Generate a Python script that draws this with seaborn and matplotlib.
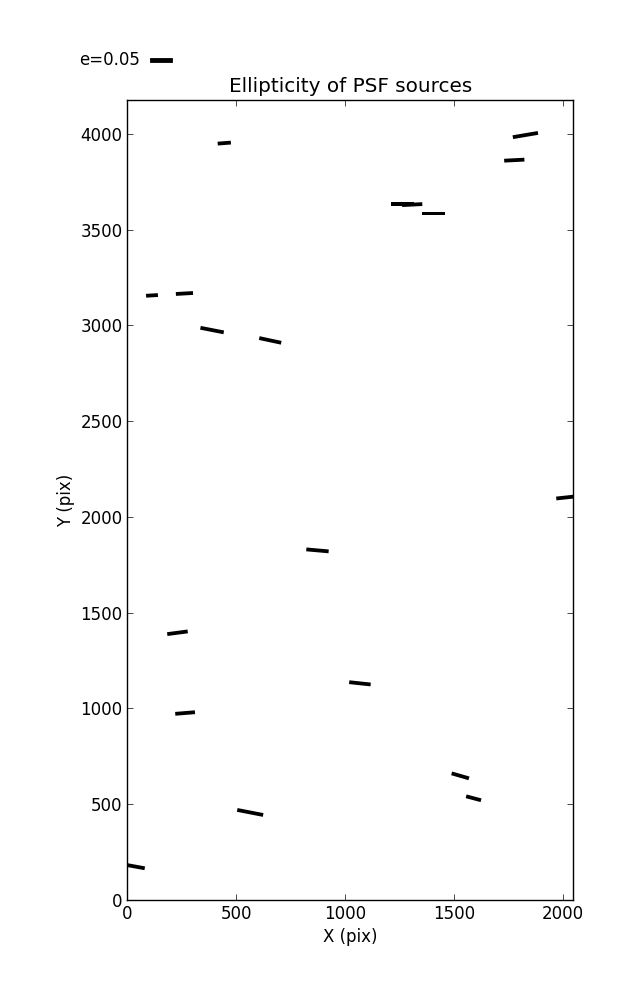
"""
Ellipticity whisker plot of PSF sources on the detector.
"""

import numpy as np
import matplotlib
matplotlib.use('Agg')
import matplotlib.pyplot as plt
import seaborn as sns

# source centres on the detector (pix)
x_pix = [445, 1828, 1777, 1265, 1308, 1407, 113, 262, 389, 656,
         2020, 873, 230, 1068, 265, 1529, 1590, 564, 34]
y_pix = [3951, 3993, 3862, 3635, 3630, 3583, 3156, 3166, 2975, 2921,
         2102, 1825, 1395, 1131, 976, 648, 531, 457, 175]
# ellipticity modulus and position angle (deg)
ellip = [0.030, 0.058, 0.046, 0.052, 0.046, 0.052, 0.027, 0.039, 0.054, 0.051,
         0.050, 0.051, 0.047, 0.049, 0.045, 0.041, 0.035, 0.060, 0.046]
angle = [4.4, 9.6, 2.9, 0.0, 2.9, 0.0, 3.3, 3.3, -11.1, -12.1,
         6.1, -5.1, 7.5, -6.1, 4.6, -16.1, -14.9, -11.0, -10.4]

x_ticks = [0, 500, 1000, 1500, 2000]
y_ticks = [0, 500, 1000, 1500, 2000, 2500, 3000, 3500, 4000]
key_e = 0.05

sns.set_theme(style='ticks', rc={
    'font.size': 12,
    'axes.titlesize': 14.4,
    'axes.labelsize': 12,
    'xtick.labelsize': 12,
    'ytick.labelsize': 12,
    'axes.edgecolor': 'black',
    'axes.linewidth': 1.0,
    'xtick.direction': 'in',
    'ytick.direction': 'in',
    'xtick.top': True,
    'ytick.right': True,
    'xtick.major.size': 4,
    'ytick.major.size': 4,
    'xtick.major.width': 0.5,
    'ytick.major.width': 0.5,
    'xtick.color': 'black',
    'ytick.color': 'black',
    'text.color': 'black',
    'axes.labelcolor': 'black',
})
plt.rcParams['font.family'] = ['DejaVu Sans']

fig = plt.figure(figsize=(6.37, 10), dpi=100)
ax = fig.add_axes([0.2, 0.1, 0.7, 0.8])

theta = np.deg2rad(angle)
u = np.array(ellip) * np.cos(theta)
v = np.array(ellip) * np.sin(theta)

q = ax.quiver(x_pix, y_pix, u, v, color='black', pivot='middle',
              headwidth=0, headlength=0, headaxislength=0,
              scale=0.2273, scale_units='inches', width=0.0085)
ax.quiverkey(q, 0.2355, 0.94, key_e, f'e={key_e}', labelpos='W',
             coordinates='figure', fontproperties={'size': 12},
             linewidth=0.6, edgecolor='black')

ax.set_xlim(0, 2048)
ax.set_ylim(0, 4176)
ax.set_xticks(x_ticks)
ax.set_yticks(y_ticks)
ax.set_xlabel('X (pix)')
ax.set_ylabel('Y (pix)')
ax.set_title('Ellipticity of PSF sources')

fig.savefig('out.png', dpi=100)
